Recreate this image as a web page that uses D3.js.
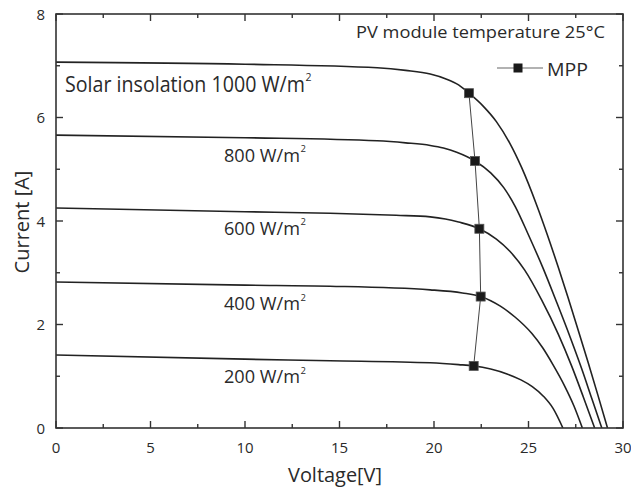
<!DOCTYPE html>
<html>
<head>
<meta charset="utf-8">
<script src="https://cdn.jsdelivr.net/npm/d3@7"></script>
<style>
  html, body { margin: 0; padding: 0; background: #fff; }
  svg { display: block; }
  text { font-family: "Open Sans", "Noto Sans", sans-serif; fill: #2a2a2a; }
</style>
</head>
<body>
<svg id="chart" width="631" height="488"></svg>
<script>
// I–V characteristics of a PV module at several solar insolation levels
const insolation = [1000, 800, 600, 400, 200];

// [voltage V, current A] samples along each curve
const curve1000 = [[0,7.07],[10,7.03],[17,6.96],[18.5,6.91],[19.8,6.84],[20.6,6.75],[21.3,6.63],[21.85,6.47],[22.6,6.22],[23.3,5.92],[24.0,5.51],[24.64,5.03],[25.43,4.31],[26.0,3.73],[26.58,3.10],[27.1,2.51],[27.63,1.89],[28.16,1.26],[28.66,0.65],[29.18,0]];
const curve800 = [[0,5.66],[10,5.61],[17,5.55],[18.5,5.51],[19.8,5.46],[20.5,5.41],[21.2,5.33],[22.17,5.16],[23.0,4.93],[23.7,4.64],[24.3,4.28],[25.0,3.73],[25.78,3.08],[26.49,2.43],[27.2,1.76],[27.81,1.15],[28.34,0.58],[28.88,0]];
const curve600 = [[0,4.25],[10,4.18],[14.5,4.15],[18,4.11],[19.8,4.08],[20.6,4.04],[21.3,3.98],[22.4,3.85],[23.3,3.65],[24.0,3.42],[24.8,3.05],[25.7,2.47],[26.58,1.81],[27.28,1.2],[27.9,0.6],[28.5,0]];
const curve400 = [[0,2.82],[10,2.76],[14.5,2.74],[19.8,2.67],[21.5,2.61],[22.47,2.54],[23.0,2.46],[23.49,2.36],[24.3,2.14],[25.17,1.83],[25.75,1.55],[26.3,1.22],[26.9,0.82],[27.4,0.43],[27.85,0]];
const curve200 = [[0,1.41],[10,1.33],[14.5,1.3],[19.8,1.26],[21.3,1.225],[22.1,1.2],[23.0,1.14],[23.9,1.04],[24.6,0.93],[25.2,0.8],[25.8,0.61],[26.3,0.38],[26.82,0]];
const curves = [curve1000, curve800, curve600, curve400, curve200];

// maximum power points, one per insolation level
const mppVoltage = [21.85, 22.17, 22.4, 22.47, 22.1];
const mppCurrent = [6.47, 5.16, 3.85, 2.54, 1.2];

// axis ticks
const xMajorTicks = [0, 5, 10, 15, 20, 25, 30];
const xMinorTicks = [2.5, 7.5, 12.5, 17.5, 22.5, 27.5];
const yMajorTicks = [0, 2, 4, 6, 8];
const yMinorTicks = [1, 3, 5, 7];

// text
const curveLabels = ["Solar insolation 1000 W/m", "800 W/m", "600 W/m", "400 W/m", "200 W/m"];
const titleText = "PV module temperature 25\u00B0C";
const legendText = "MPP";
const xTitle = "Voltage[V]";
const yTitle = "Current [A]";

const svg = d3.select("#chart");
const plotL = 56, plotR = 623, plotT = 14, plotB = 428;

const x = d3.scaleLinear().domain([0, 30]).range([plotL, plotR]);
const y = d3.scaleLinear().domain([0, 8]).range([plotB, plotT]);

const ink = "#222";

// clip region for the curves
svg.append("clipPath").attr("id", "plotClip")
  .append("rect").attr("x", plotL).attr("y", plotT)
  .attr("width", plotR - plotL).attr("height", plotB - plotT);

// I–V curves
const line = d3.line().x(d => x(d[0])).y(d => y(d[1])).curve(d3.curveMonotoneX);
svg.append("g").attr("clip-path", "url(#plotClip)")
  .selectAll("path").data(curves).join("path")
  .attr("d", line)
  .attr("fill", "none").attr("stroke", ink).attr("stroke-width", 1.6);

// MPP trace and markers
const mpp = mppVoltage.map((v, i) => [v, mppCurrent[i]]);
svg.append("path")
  .attr("d", d3.line().x(d => x(d[0])).y(d => y(d[1]))(mpp))
  .attr("fill", "none").attr("stroke", "#444").attr("stroke-width", 1);
const ms = 9;
svg.append("g").selectAll("rect").data(mpp).join("rect")
  .attr("x", d => x(d[0]) - ms / 2).attr("y", d => y(d[1]) - ms / 2)
  .attr("width", ms).attr("height", ms)
  .attr("fill", "#1a1a1a").attr("stroke", "#555").attr("stroke-width", 0.8);

// axes: bottom / top / left / right, ticks pointing inward
const axisG = svg.append("g").attr("stroke", "#333").attr("stroke-width", 1.4);
function tickLines(vals, len, fn) {
  vals.forEach(v => { const c = fn(v, len); axisG.append("line").attr("x1", c[0]).attr("y1", c[1]).attr("x2", c[2]).attr("y2", c[3]); });
}
tickLines(xMajorTicks, 7, (v, l) => [x(v), plotB, x(v), plotB - l]);
tickLines(xMinorTicks, 4, (v, l) => [x(v), plotB, x(v), plotB - l]);
tickLines(xMajorTicks, 7, (v, l) => [x(v), plotT, x(v), plotT + l]);
tickLines(xMinorTicks, 4, (v, l) => [x(v), plotT, x(v), plotT + l]);
tickLines(yMajorTicks, 7, (v, l) => [plotL, y(v), plotL + l, y(v)]);
tickLines(yMinorTicks, 4, (v, l) => [plotL, y(v), plotL + l, y(v)]);
tickLines(yMajorTicks, 7, (v, l) => [plotR, y(v), plotR - l, y(v)]);
tickLines(yMinorTicks, 4, (v, l) => [plotR, y(v), plotR - l, y(v)]);
svg.append("rect").attr("x", plotL).attr("y", plotT)
  .attr("width", plotR - plotL).attr("height", plotB - plotT)
  .attr("fill", "none").attr("stroke", "#333").attr("stroke-width", 1.6);

// tick labels
svg.append("g").selectAll("text").data(xMajorTicks).join("text")
  .attr("x", d => x(d)).attr("y", plotB + 25)
  .attr("text-anchor", "middle").attr("font-size", 15).attr("fill", "#3a3a3a").text(d => d);
svg.append("g").selectAll("text").data(yMajorTicks).join("text")
  .attr("x", plotL - 11).attr("y", d => y(d) + 5.5)
  .attr("text-anchor", "end").attr("font-size", 15).attr("fill", "#3a3a3a").text(d => d);

// text squeezed to a given width, with an optional superscript "2"
function label(px, py, str, width, size, sup) {
  const t = svg.append("text").attr("x", px).attr("y", py).attr("font-size", size);
  t.append("tspan").attr("textLength", width).attr("lengthAdjust", "spacingAndGlyphs").text(str);
  if (sup) {
    t.append("tspan").attr("dx", 0.5).attr("dy", -size * 0.5)
      .attr("font-size", size * 0.5).text("2");
  }
}

// curve labels
label(65, 91.7, curveLabels[0], 240, 21, true);
const lblY = [5.146, 3.73, 2.28, 0.864];
lblY.forEach((v, i) => label(224, y(v), curveLabels[i + 1], 76, 19, true));

// title and legend
label(356, 38, titleText, 249, 17, false);
svg.append("line").attr("x1", 497).attr("x2", 543).attr("y1", 68).attr("y2", 68)
  .attr("stroke", "#666").attr("stroke-width", 1.2);
svg.append("rect").attr("x", 518 - ms / 2).attr("y", 68 - ms / 2)
  .attr("width", ms).attr("height", ms).attr("fill", "#1a1a1a");
label(547, 76, legendText, 41, 19, false);

// axis titles
label(288, 481.5, xTitle, 94, 20, false);
svg.append("text")
  .attr("transform", "translate(29,222) rotate(-90)")
  .attr("text-anchor", "middle").attr("font-size", 20)
  .text(yTitle);
</script>
</body>
</html>
